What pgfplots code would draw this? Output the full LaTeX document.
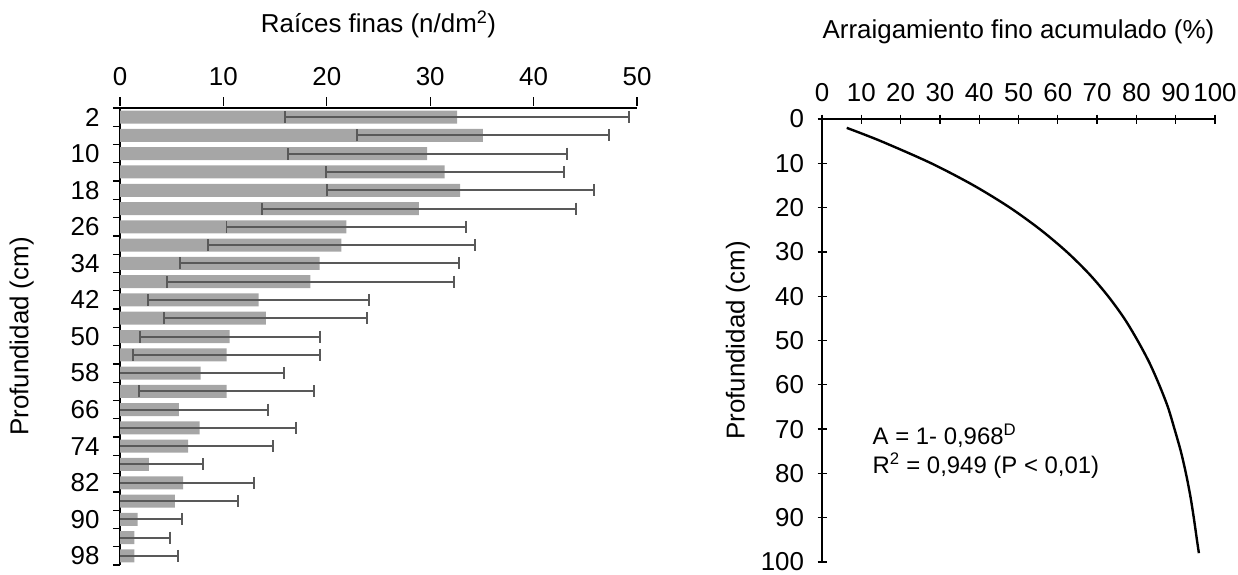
\documentclass[border=0pt]{standalone}
\usepackage{pgfplots}
\pgfplotsset{compat=1.18}
\usepackage{fontspec}
\setmainfont{Liberation Sans}
\pgfplotsset{every axis/.append style={font=\fontsize{26}{31}\selectfont,
 tick label style={font=\fontsize{26}{31}\selectfont},
 label style={font=\fontsize{26}{31}\selectfont}}}
\begin{document}
\begin{tikzpicture}
\useasboundingbox (0bp,0bp) rectangle (1238bp,-575bp);
\begin{axis}[at={(120bp,-108bp)},anchor=north west,scale only axis,width=517bp,height=457bp,
 xmin=0,xmax=50,ymin=0,ymax=100,y dir=reverse,
 axis x line*=top,axis y line*=left,
 xtick={0,10,...,50},ytick={2,10,...,98},minor ytick={0,4,...,100},
 major y tick style={draw=none},minor tick length=7bp,major tick length=9bp,
 tick style={black,line width=1.3pt},axis line style={black,line width=1.3pt},
 x tick style={yshift=2bp},
 tick align=outside,
 xticklabel style={yshift=10bp},
 yticklabel style={xshift=-8bp},
 /pgf/number format/assume math mode=true,
 xlabel={Raíces finas (n/dm\textsuperscript{2})},
 xlabel style={yshift=22bp},
 ylabel={Profundidad (cm)},ylabel style={yshift=30bp},
 clip=true]
\addplot[xbar,bar width=13bp,fill=black!35,draw=none,
 error bars/.cd,x dir=both,x explicit,error bar style={draw=black!65,line width=2pt},error mark options={draw=black!65,line width=2pt,mark size=6bp,rotate=90}]
coordinates {
(32.6,2) +- (16.6,0)
(35.1,6) +- (12.2,0)
(29.7,10) +- (13.5,0)
(31.4,14) +- (11.5,0)
(32.9,18) +- (12.9,0)
(28.9,22) +- (15.2,0)
(21.9,26) +- (11.6,0)
(21.4,30) +- (12.9,0)
(19.3,34) +- (13.5,0)
(18.4,38) +- (13.9,0)
(13.4,42) +- (10.7,0)
(14.1,46) +- (9.8,0)
(10.6,50) +- (8.7,0)
(10.3,54) +- (9.0,0)
(7.8,58) +- (8.1,0)
(10.3,62) +- (8.5,0)
(5.7,66) +- (8.6,0)
(7.7,70) +- (9.3,0)
(6.6,74) +- (8.2,0)
(2.8,78) +- (5.2,0)
(6.1,82) +- (6.9,0)
(5.3,86) +- (6.1,0)
(1.7,90) +- (4.3,0)
(1.4,94) +- (3.4,0)
(1.4,98) +- (4.2,0)
};
\end{axis}
\begin{axis}[at={(822bp,-119bp)},anchor=north west,scale only axis,width=393bp,height=443bp,
 xmin=0,xmax=100,ymin=0,ymax=100,y dir=reverse,
 axis x line*=top,axis y line*=left,
 xtick={0,10,...,100},ytick={0,10,...,100},
 tick style={black,line width=1.3pt},axis line style={black,line width=1.3pt},
 tick align=center,major tick length=9bp,
 xticklabel style={yshift=9bp},
 yticklabel style={xshift=-10bp},
 /pgf/number format/assume math mode=true,
 xlabel={Arraigamiento fino acumulado (\%)},xlabel style={yshift=33bp},
 ylabel={Profundidad (cm)},ylabel style={yshift=4bp}]
\addplot[black,line width=2.4pt,smooth] coordinates {
(6.3,2)(15.0,5)(27.8,10)(38.6,15)(47.8,20)(55.6,25)(62.3,30)(68.0,35)(72.8,40)(76.9,45)(80.3,50)(83.3,55)(85.8,60)(88.0,65)(89.7,70)(91.3,75)(92.6,80)(93.7,85)(94.6,90)(95.4,95)(95.9,98)};
\node[anchor=west,align=left,font=\fontsize{24}{30}\selectfont] at (axis cs:12,75) {A = 1- 0,968\textsuperscript{D}\\R\textsuperscript{2} = 0,949 (P < 0,01)};
\end{axis}
\end{tikzpicture}
\end{document}
